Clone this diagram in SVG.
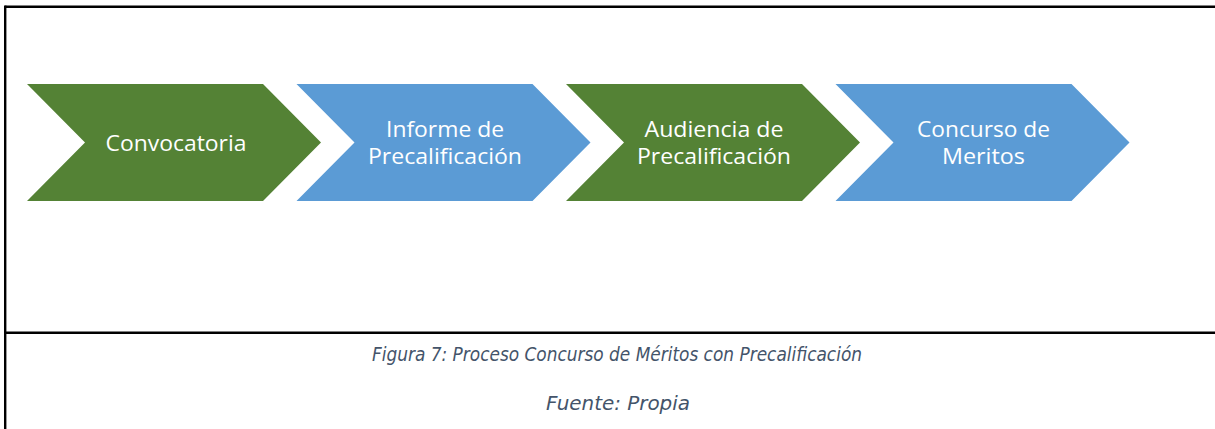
<svg xmlns="http://www.w3.org/2000/svg" width="1215" height="429" viewBox="0 0 1215 429">
<style>
.green{fill:#548235}
.blue{fill:#5B9BD5}
.lbl{font-family:"Open Sans","Noto Sans","Liberation Sans",sans-serif;font-size:21px;fill:#FFFFFF;text-anchor:middle}
.cap{font-family:"DejaVu Sans","Liberation Sans",sans-serif;font-style:italic;font-size:20px;fill:#44546A;text-anchor:middle}
.rule{stroke:#000000;stroke-width:2.4;fill:none}
</style>
<defs>
<polygon id="chev" points="0,0 236,0 294,58.5 236,117 0,117 58,58.5"/>
</defs>
<rect x="0" y="0" width="1215" height="429" fill="#FFFFFF"/>
<g id="frame">
<line class="rule" x1="5.2" y1="6.7" x2="1215" y2="6.7"/>
<line class="rule" x1="5.2" y1="5.5" x2="5.2" y2="429"/>
<line class="rule" x1="5.2" y1="332.8" x2="1215" y2="332.8"/>
</g>
<g id="connectors"></g>
<g id="n1">
<use href="#chev" class="green" x="27" y="84"/>
<text class="lbl" x="176" y="150.5" textLength="141" lengthAdjust="spacingAndGlyphs">Convocatoria</text>
</g>
<g id="n2">
<use href="#chev" class="blue" x="296.5" y="84"/>
<text class="lbl" x="445" y="136.7" textLength="118" lengthAdjust="spacingAndGlyphs">Informe de</text>
<text class="lbl" x="445" y="163.5" textLength="154" lengthAdjust="spacingAndGlyphs">Precalificación</text>
</g>
<g id="n3">
<use href="#chev" class="green" x="566" y="84"/>
<text class="lbl" x="714" y="136.7" textLength="139" lengthAdjust="spacingAndGlyphs">Audiencia de</text>
<text class="lbl" x="714" y="163.5" textLength="154" lengthAdjust="spacingAndGlyphs">Precalificación</text>
</g>
<g id="n4">
<use href="#chev" class="blue" x="835.5" y="84"/>
<text class="lbl" x="983.5" y="136.7" textLength="133" lengthAdjust="spacingAndGlyphs">Concurso de</text>
<text class="lbl" x="983.5" y="163.5" textLength="83" lengthAdjust="spacingAndGlyphs">Meritos</text>
</g>
<g id="caption">
<text class="cap" x="617" y="361" textLength="490" lengthAdjust="spacingAndGlyphs">Figura 7: Proceso Concurso de Méritos con Precalificación</text>
<text class="cap" x="618" y="410" textLength="144" lengthAdjust="spacingAndGlyphs">Fuente: Propia</text>
</g>
</svg>
